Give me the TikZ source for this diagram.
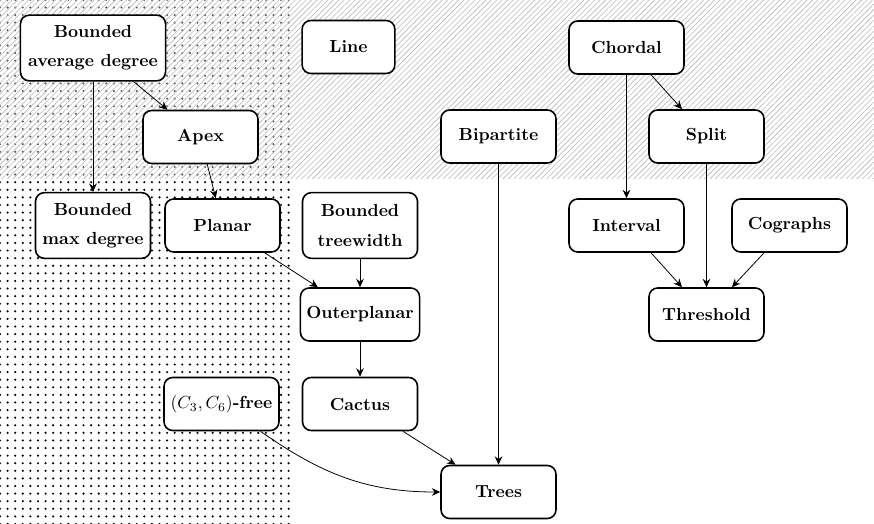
\documentclass[tikz,border=0pt]{standalone}
\usetikzlibrary{arrows.meta,patterns.meta}
\begin{document}
\begin{tikzpicture}[x=0.5714pt,y=0.5714pt,
  box/.style={draw, line width=0.9pt, rounded corners=5pt, fill=white, font=\bfseries,
    minimum width=65.7pt, minimum height=30.3pt, align=center, inner sep=3.33pt},
  twoline/.style={minimum height=37.5pt},
  edge/.style={-{Stealth[length=4.8pt,width=4.4pt,inset=1.6pt]}, line width=0.45pt}]
\useasboundingbox (0,0) rectangle (874,-524);
% background regions
\fill[pattern={Dots[distance=4.34pt,radius=0.68pt]}, pattern color=black] (0,0) rectangle (290,-524);
\fill[white, opacity=0.35] (0,0) rectangle (290,-179);
\fill[pattern={Lines[angle=45,distance=2.2pt,line width=0.35pt]}, pattern color=black!28] (0,0) rectangle (874,-179);
% nodes
\node[box, twoline, minimum width=82.9pt] (bad) at (93,-48) {Bounded\\[4.6pt]average degree};
\node[box] (apex) at (200.5,-137) {Apex};
\node[box, minimum width=53pt] (line) at (348.5,-47) {Line};
\node[box] (chordal) at (626.5,-47.5) {Chordal};
\node[box] (bip) at (498.5,-136.5) {Bipartite};
\node[box] (split) at (706.5,-136.5) {Split};
\node[box, twoline] (bmd) at (93,-225.5) {Bounded\\[4.6pt]max degree};
\node[box] (planar) at (222.5,-225.5) {Planar};
\node[box, twoline] (btw) at (360,-225.5) {Bounded\\[4.6pt]treewidth};
\node[box] (interval) at (626.5,-225.5) {Interval};
\node[box] (cographs) at (789.5,-225.5) {Cographs};
\node[box] (outer) at (360,-314.5) {Outerplanar};
\node[box] (threshold) at (706.5,-314.5) {Threshold};
\node[box] (cactus) at (360,-404) {Cactus};
\node[box] (c36) at (221.5,-404) {$(C_3,C_6)$-free};
\node[box] (trees) at (498.5,-492) {Trees};
% edges
\draw[edge] (bad) -- (bmd);
\draw[edge] (bad) -- (apex);
\draw[edge] (apex) -- (planar);
\draw[edge] (planar) -- (outer);
\draw[edge] (btw) -- (outer);
\draw[edge] (outer) -- (cactus);
\draw[edge] (cactus) -- (trees);
\draw[edge] (c36) to[out=-35,in=180] (trees);
\draw[edge] (bip) -- (trees);
\draw[edge] (chordal) -- (interval);
\draw[edge] (chordal) -- (split);
\draw[edge] (split) -- (threshold);
\draw[edge] (interval) -- (threshold);
\draw[edge] (cographs) -- (threshold);
\end{tikzpicture}
\end{document}
